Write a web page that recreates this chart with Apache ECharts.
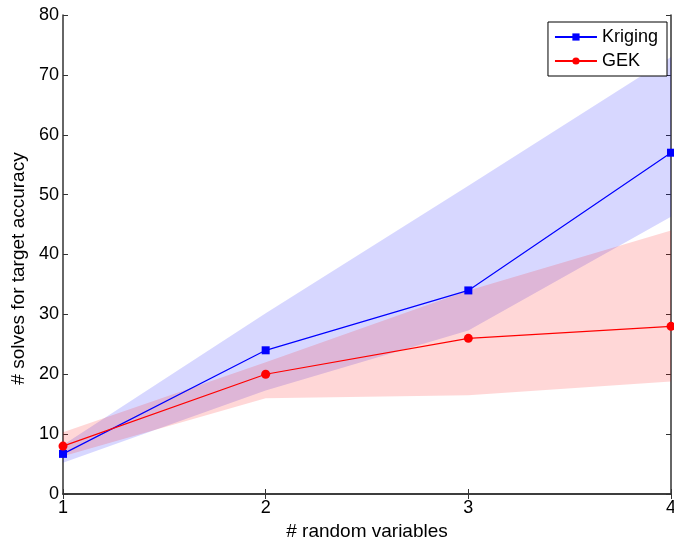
<!DOCTYPE html>
<html>
<head>
<meta charset="utf-8">
<script src="https://cdn.jsdelivr.net/npm/echarts@6/dist/echarts.min.js"></script>
<style>
  html, body { margin: 0; padding: 0; background: #fff; }
  #main { width: 674px; height: 544px; }
</style>
</head>
<body>
<div id="main"></div>
<script>
var categories = ['1', '2', '3', '4'];
var krigingMean = [6.7, 24, 34, 57];
var krigingLow = [5.2, 17.3, 27.3, 46.3];
var krigingHigh = [8.2, 30.2, 51.5, 73];
var gekMean = [8, 20, 26, 28];
var gekLow = [6.3, 16, 16.5, 18.8];
var gekHigh = [10.3, 22, 34, 44];
var yTicks = [0, 80, 10];

var chart = echarts.init(document.getElementById('main'));

function diff(hi, lo) {
  return hi.map(function (v, i) { return +(v - lo[i]).toFixed(2); });
}

var font = 'Liberation Sans, Arial, sans-serif';
var axisCol = '#333';

var option = {
  animation: false,
  grid: { left: 63, right: 3, top: 15, bottom: 50, outerBoundsMode: 'none', containLabel: false },
  legend: {
    data: ['Kriging', 'GEK'],
    right: 7,
    top: 22,
    orient: 'vertical',
    backgroundColor: '#fff',
    borderColor: '#000',
    borderWidth: 1,
    padding: [6, 9, 6, 6],
    itemGap: 6,
    itemWidth: 42,
    itemHeight: 9,
    textStyle: { fontFamily: font, fontSize: 18, color: '#000', lineHeight: 18 }
  },
  xAxis: [{
    type: 'category',
    data: categories,
    boundaryGap: false,
    name: '# random variables',
    nameLocation: 'middle',
    nameGap: 27,
    nameTextStyle: { fontFamily: font, fontSize: 19, color: '#000' },
    axisLine: { lineStyle: { color: axisCol, width: 1.5 } },
    axisTick: { inside: true, length: 5, alignWithLabel: true, lineStyle: { color: axisCol } },
    axisLabel: { fontFamily: font, fontSize: 18, color: '#000', margin: 5 },
    splitLine: { show: false }
  }, {
    type: 'category',
    data: categories,
    boundaryGap: false,
    position: 'top',
    axisLine: { lineStyle: { color: axisCol, width: 1.5 } },
    axisTick: { inside: true, length: 5, lineStyle: { color: axisCol } },
    axisLabel: { show: false }
  }],
  yAxis: [{
    type: 'value',
    min: yTicks[0],
    max: yTicks[1],
    interval: yTicks[2],
    name: '# solves for target accuracy',
    nameLocation: 'middle',
    nameGap: 33,
    nameTextStyle: { fontFamily: font, fontSize: 19, color: '#000', padding: [0, 28, 0, 0] },
    axisLine: { show: true, lineStyle: { color: axisCol, width: 1.5 } },
    axisTick: { show: true, inside: true, length: 5, lineStyle: { color: axisCol } },
    axisLabel: { fontFamily: font, fontSize: 18, color: '#000', margin: 4 },
    splitLine: { show: false }
  }, {
    type: 'value',
    min: yTicks[0],
    max: yTicks[1],
    interval: yTicks[2],
    position: 'right',
    axisLine: { show: true, lineStyle: { color: axisCol, width: 1.5 } },
    axisTick: { show: true, inside: true, length: 5, lineStyle: { color: axisCol } },
    axisLabel: { show: false },
    splitLine: { show: false }
  }],
  series: [
    {
      name: 'kLow', type: 'line', stack: 'kband', data: krigingLow,
      symbol: 'none', lineStyle: { opacity: 0 }, silent: true, z: 1
    },
    {
      name: 'kBand', type: 'line', stack: 'kband', data: diff(krigingHigh, krigingLow),
      symbol: 'none', lineStyle: { opacity: 0 },
      areaStyle: { color: 'rgba(0,0,255,0.155)', opacity: 1 }, silent: true, z: 1
    },
    {
      name: 'gLow', type: 'line', stack: 'gband', data: gekLow,
      symbol: 'none', lineStyle: { opacity: 0 }, silent: true, z: 1
    },
    {
      name: 'gBand', type: 'line', stack: 'gband', data: diff(gekHigh, gekLow),
      symbol: 'none', lineStyle: { opacity: 0 },
      areaStyle: { color: 'rgba(255,0,0,0.155)', opacity: 1 }, silent: true, z: 1
    },
    {
      name: 'Kriging', type: 'line', data: krigingMean,
      symbol: 'rect', symbolSize: 8,
      itemStyle: { color: '#0000ff' },
      lineStyle: { color: '#0000ff', width: 1.2 }, z: 3
    },
    {
      name: 'GEK', type: 'line', data: gekMean,
      symbol: 'circle', symbolSize: 9,
      itemStyle: { color: '#ff0000' },
      lineStyle: { color: '#ff0000', width: 1.2 }, z: 3
    }
  ]
};

chart.setOption(option);
</script>
</body>
</html>
